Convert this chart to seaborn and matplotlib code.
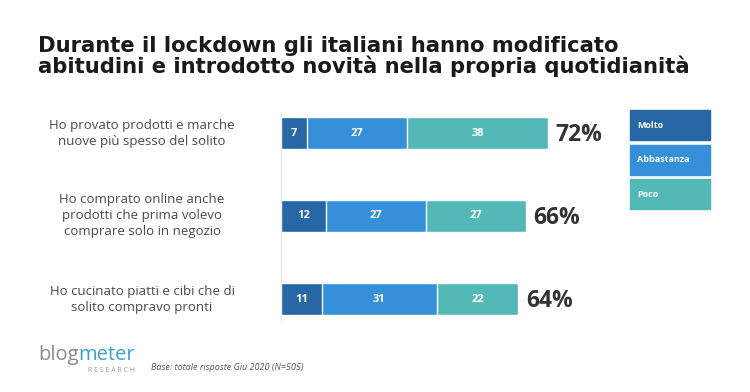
import pandas as pd
import matplotlib.pyplot as plt
import seaborn as sns
from matplotlib.patches import Rectangle

sns.set_style("white")
plt.rcParams['font.family'] = ['Open Sans', 'DejaVu Sans']

# Data
statements = [
    'Ho provato prodotti e marche\nnuove più spesso del solito',
    'Ho comprato online anche\nprodotti che prima volevo\ncomprare solo in negozio',
    'Ho cucinato piatti e cibi che di\nsolito compravo pronti',
]
molto = [7, 12, 11]
abbastanza = [27, 27, 31]
poco = [38, 27, 22]
totals = ['72%', '66%', '64%']
levels = ['Molto', 'Abbastanza', 'Poco']
colors = ['#2767a5', '#3690d9', '#52b8b8']

df = pd.DataFrame({'item': statements, 'Molto': molto,
                   'Abbastanza': abbastanza, 'Poco': poco})
df['c1'] = df['Molto']
df['c2'] = df['Molto'] + df['Abbastanza']
df['c3'] = df['c2'] + df['Poco']

W, H = 750, 392
fig = plt.figure(figsize=(7.5, 3.92), dpi=100)

# axes placed in pixel terms: x from 281px, 3.71px per unit
ax = fig.add_axes([281 / W, 1 - 320 / H, 371 / W, 207 / H])
bw = 0.39
for col, c in zip(['c3', 'c2', 'c1'], colors[::-1]):
    sns.barplot(data=df, x=col, y='item', orient='h', color=c,
                width=bw, ax=ax, saturation=1, errorbar=None)
ax.set_xlim(0, 100)
ax.set_ylim(2 + 21 / 83, -20 / 83)
ax.set_xlabel('')
ax.set_ylabel('')
ax.set_xticks([])
ax.set_yticks([])
for s in ['top', 'right', 'bottom']:
    ax.spines[s].set_visible(False)
ax.spines['left'].set_color('#e6e6e6')
ax.spines['left'].set_linewidth(0.8)

for i, row in df.iterrows():
    starts = [0, row['c1'], row['c2']]
    vals = [row['Molto'], row['Abbastanza'], row['Poco']]
    for st, v in zip(starts, vals):
        ax.text(st + v / 2, i, f'{v}', ha='center', va='center',
                color='white', fontsize=8, fontweight='bold')
    ax.text(row['c3'] + 2, i + 0.02, totals[i], ha='left', va='center',
            color='#333333', fontsize=16.5, fontweight='bold')
    fig.text(142 / W, 1 - (133 + 83 * i) / H, row['item'], ha='center',
             va='center', fontsize=9.5, color='#4a4a4a', linespacing=1.3)

# legend boxes
for j, (lab, c) in enumerate(zip(levels, colors)):
    y0 = 110 + j * 34.5
    fig.patches.append(Rectangle((630 / W, 1 - (y0 + 30) / H), 80 / W, 30 / H,
                                 transform=fig.transFigure, color=c))
    fig.text(637 / W, 1 - (y0 + 15) / H, lab, ha='left', va='center',
             fontsize=6.5, fontweight='bold', color='white')

# title (baseline refers to the last line)
fig.text(38 / W, 1 - 73 / H,
         'Durante il lockdown gli italiani hanno modificato\n'
         'abitudini e introdotto novità nella propria quotidianità',
         ha='left', va='baseline', fontsize=15.2, fontweight='bold',
         family='DejaVu Sans', color='#1a1a1a', linespacing=1.0)

# footer logo
r = fig.canvas.get_renderer()
t1 = fig.text(38 / W, 1 - 360 / H, 'blog', ha='left', va='baseline',
              fontsize=14.5, color='#8a8a8a')
x_end = t1.get_window_extent(r).x1 / W
fig.text(x_end, 1 - 360 / H, 'meter', ha='left', va='baseline',
         fontsize=14.5, color='#3aa3c8')
fig.text(135 / W, 1 - 372 / H, 'R E S E A R C H', ha='right', va='baseline',
         fontsize=5, color='#9a9a9a')
fig.text(151 / W, 1 - 370 / H, 'Base: totale risposte Giu 2020 (N=505)',
         ha='left', va='baseline', fontsize=6.5, style='italic',
         color='#555555')

fig.savefig('out.png', dpi=100)
